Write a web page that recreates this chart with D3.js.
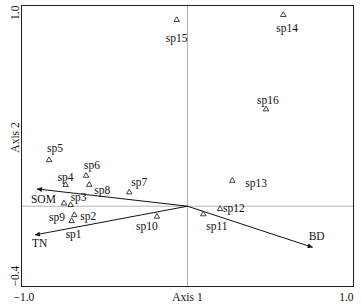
<!DOCTYPE html>
<html>
<head>
<meta charset="utf-8">
<script src="https://cdn.jsdelivr.net/npm/d3@7"></script>
<style>
  body { margin: 0; background: #fff; }
  text { font-family: "Liberation Serif", "Times New Roman", serif; fill: #111; }
</style>
</head>
<body>
<div id="chart"></div>
<script>
// ordination scores
const species = ["sp1", "sp2", "sp3", "sp4", "sp5", "sp6", "sp7", "sp8",
                 "sp9", "sp10", "sp11", "sp12", "sp13", "sp14", "sp15", "sp16"];
const axis1 = [-0.698, -0.682, -0.704, -0.734, -0.834, -0.611, -0.351, -0.592,
               -0.744, -0.184, 0.095, 0.196, 0.270, 0.577, -0.065, 0.473];
const axis2 = [-0.074, -0.044, 0.006, 0.106, 0.230, 0.152, 0.069, 0.107,
               0.014, -0.052, -0.040, -0.014, 0.127, 0.953, 0.928, 0.483];

const factors = ["SOM", "TN", "BD"];
const factorAxis1 = [-0.907, -0.919, 0.754];
const factorAxis2 = [0.086, -0.143, -0.205];

const xTicks = [-1.0, 1.0];
const yTicks = [-0.4, 1.0];

// label nudges in pixels (layout only)
const spOffset = [[-6, 17], [6, 5], [0, -4], [-8, -4], [-2, -8], [-2, -7], [2, -6], [5, 9],
                  [-15, 18], [-21, 13], [3, 16], [3, 3], [13, 6], [-7, 17], [-11, 22], [-9, -5]];
const factorOffset = [[-6, 14], [-3, 12], [-4, -7]];

const width = 361;
const height = 308;
const margin = { top: 5.5, right: 7.5, bottom: 21.5, left: 21.5 };
const fs = 11.5;

const x = d3.scaleLinear().domain([-1, 1]).range([margin.left, width - margin.right]);
const y = d3.scaleLinear().domain([-0.4, 1]).range([height - margin.bottom, margin.top]);

const svg = d3.select("#chart").append("svg")
    .attr("width", width)
    .attr("height", height);

svg.append("defs").append("marker")
    .attr("id", "head")
    .attr("viewBox", "0 0 10 10")
    .attr("refX", 10).attr("refY", 5)
    .attr("markerWidth", 7).attr("markerHeight", 5)
    .attr("markerUnits", "userSpaceOnUse")
    .attr("orient", "auto")
  .append("path")
    .attr("d", "M0,0L10,5L0,10Z")
    .attr("fill", "#111");

// zero lines
svg.append("line")
    .attr("x1", x(0)).attr("x2", x(0))
    .attr("y1", y.range()[1]).attr("y2", y.range()[0])
    .attr("stroke", "#666").attr("stroke-width", 1).attr("stroke-dasharray", "1,1");
svg.append("line")
    .attr("x1", x.range()[0]).attr("x2", x.range()[1])
    .attr("y1", y(0)).attr("y2", y(0))
    .attr("stroke", "#666").attr("stroke-width", 1).attr("stroke-dasharray", "1,1");

// frame
svg.append("rect")
    .attr("x", x.range()[0]).attr("y", y.range()[1])
    .attr("width", x.range()[1] - x.range()[0])
    .attr("height", y.range()[0] - y.range()[1])
    .attr("fill", "none").attr("stroke", "#222").attr("stroke-width", 1);

// environmental arrows
const fac = factors.map((f, i) => ({ name: f, a1: factorAxis1[i], a2: factorAxis2[i], off: factorOffset[i] }));

svg.append("g").selectAll("line")
    .data(fac)
    .join("line")
    .attr("x1", x(0)).attr("y1", y(0))
    .attr("x2", d => x(d.a1)).attr("y2", d => y(d.a2))
    .attr("stroke", "#111").attr("stroke-width", 1)
    .attr("marker-end", "url(#head)");

svg.append("g").selectAll("text")
    .data(fac)
    .join("text")
    .attr("x", d => x(d.a1) + d.off[0])
    .attr("y", d => y(d.a2) + d.off[1])
    .attr("font-size", fs)
    .text(d => d.name);

// species
const sp = species.map((s, i) => ({ name: s, a1: axis1[i], a2: axis2[i], off: spOffset[i] }));
const tri = d3.symbol().type(d3.symbolTriangle).size(13);

svg.append("g").selectAll("path")
    .data(sp)
    .join("path")
    .attr("d", tri)
    .attr("transform", d => `translate(${x(d.a1)},${y(d.a2)})`)
    .attr("fill", "none").attr("stroke", "#111").attr("stroke-width", 0.8);

svg.append("g").selectAll("text")
    .data(sp)
    .join("text")
    .attr("x", d => x(d.a1) + d.off[0])
    .attr("y", d => y(d.a2) + d.off[1])
    .attr("font-size", fs)
    .text(d => d.name);

// axis ticks and titles
const fmt = d3.format(".1f");
svg.append("text")
    .attr("x", x(xTicks[0]) - 8).attr("y", 301)
    .attr("font-size", fs)
    .text(fmt(xTicks[0]).replace("-", "\u2212"));
svg.append("text")
    .attr("x", x(xTicks[1])).attr("y", 301)
    .attr("text-anchor", "end")
    .attr("font-size", fs)
    .text(fmt(xTicks[1]));
svg.append("text")
    .attr("x", x(0)).attr("y", 301)
    .attr("text-anchor", "middle")
    .attr("font-size", fs)
    .text("Axis 1");

svg.append("text")
    .attr("transform", `translate(19,${y(yTicks[1])}) rotate(-90)`)
    .attr("text-anchor", "end")
    .attr("font-size", fs)
    .text(fmt(yTicks[1]));
svg.append("text")
    .attr("transform", `translate(19,${y(yTicks[0])}) rotate(-90)`)
    .attr("text-anchor", "start")
    .attr("font-size", fs)
    .text(fmt(yTicks[0]).replace("-", "\u2212"));
svg.append("text")
    .attr("transform", "translate(19,137.5) rotate(-90)")
    .attr("text-anchor", "middle")
    .attr("font-size", fs)
    .text("Axis 2");
</script>
</body>
</html>
